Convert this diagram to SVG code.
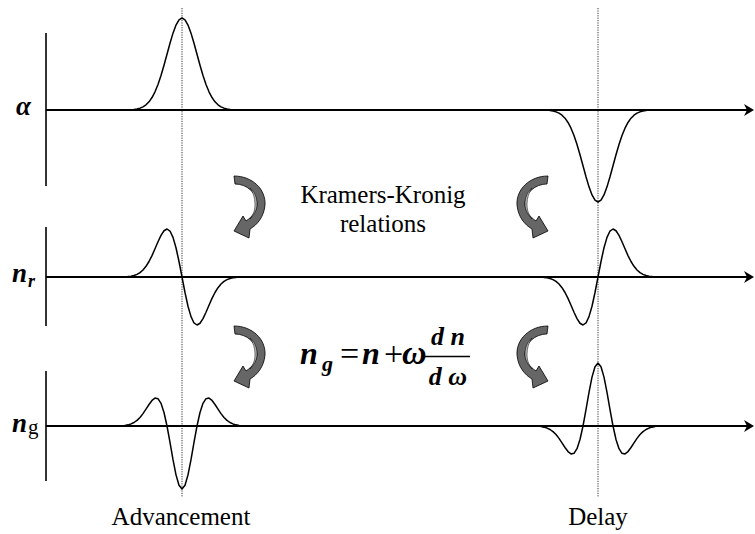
<svg xmlns="http://www.w3.org/2000/svg" width="755" height="534" viewBox="0 0 755 534">
<style>
.axis{stroke:#000;stroke-width:2;fill:none}
.vax{stroke:#000;stroke-width:1.6;fill:none}
.curve{stroke:#000;stroke-width:1.5;fill:none;stroke-linejoin:round;stroke-linecap:round}
.dot{stroke:#333;stroke-width:1;stroke-dasharray:1.2,1.2;fill:none}
text{font-family:'Liberation Serif','DejaVu Serif','Times New Roman',serif;fill:#000}
.lbl{font-size:25px}
.math{font-weight:bold;font-style:italic}
.arrowBody{fill:#666;stroke:#000;stroke-width:0.8;stroke-linejoin:round}
.arrowHi{fill:#b8b8b8;stroke:#000;stroke-width:0.5}
</style>
<defs>
<polygon id="axhead" points="0,0 -10,-6 -7,0 -10,6" fill="#000"/>
<g id="bentArrow">
<path class="arrowBody" d="M 1,1 C 19,1 33,14 32,30 C 31,42 24,50 17,54 L 16,63 L 1,56 L 10,41 L 13,46 C 19,42 24,36 24,29 C 24,18 14,9 2,9 Z"/>
<path class="arrowHi" d="M 17,13 C 22,17 24,23 24,29 C 24,35 21,40 17,44 C 21,39 22,34 22,29 C 22,23 20,17 17,13 Z"/>
</g>
</defs>

<g id="guides">
<line class="dot" x1="182" y1="8" x2="182" y2="497"/>
<line class="dot" x1="598" y1="8" x2="598" y2="497"/>
</g>

<g id="row-alpha">
<line class="vax" x1="46" y1="33" x2="46" y2="186"/>
<line class="axis" x1="46" y1="110" x2="750" y2="110"/>
<use href="#axhead" x="754" y="110"/>
<polyline class="curve" points="134,109.45 137,108.98 140,108.18 143,106.87 146,104.84 149,101.82 152,97.55 155,91.79 158,84.42 161,75.47 164,65.21 167,54.20 170,43.20 173,33.15 176,25.07 179,19.82 182,18 185,19.82 188,25.07 191,33.15 194,43.20 197,54.20 200,65.21 203,75.47 206,84.42 209,91.79 212,97.55 215,101.82 218,104.84 221,106.87 224,108.18 227,108.98 230,109.45"/>
<polyline class="curve" points="550,110.55 553,111.02 556,111.82 559,113.13 562,115.16 565,118.18 568,122.45 571,128.21 574,135.58 577,144.53 580,154.79 583,165.80 586,176.80 589,186.85 592,194.93 595,200.18 598,202 601,200.18 604,194.93 607,186.85 610,176.80 613,165.80 616,154.79 619,144.53 622,135.58 625,128.21 628,122.45 631,118.18 634,115.16 637,113.13 640,111.82 643,111.02 646,110.55"/>
<text class="math" x="16" y="115" font-size="27">α</text>
</g>

<g id="row-nr">
<line class="vax" x1="46" y1="227" x2="46" y2="326"/>
<line class="axis" x1="46" y1="277" x2="750" y2="277"/>
<use href="#axhead" x="754" y="277"/>
<polyline class="curve" points="128,276.56 131,276.17 134,275.48 137,274.36 140,272.61 143,270.00 146,266.34 149,261.52 152,255.59 155,248.81 158,241.80 161,235.42 164,230.77 167,229.00 170,231.03 173,237.34 176,247.78 179,261.49 182,277 185,292.51 188,306.22 191,316.66 194,322.97 197,325.00 200,323.23 203,318.58 206,312.20 209,305.19 212,298.41 215,292.48 218,287.66 221,284.00 224,281.39 227,279.64 230,278.52 233,277.83 236,277.44"/>
<polyline class="curve" points="544,277.44 547,277.83 550,278.52 553,279.64 556,281.39 559,284.00 562,287.66 565,292.48 568,298.41 571,305.19 574,312.20 577,318.58 580,323.23 583,325.00 586,322.97 589,316.66 592,306.22 595,292.51 598,277 601,261.49 604,247.78 607,237.34 610,231.03 613,229.00 616,230.77 619,235.42 622,241.80 625,248.81 628,255.59 631,261.52 634,266.34 637,270.00 640,272.61 643,274.36 646,275.48 649,276.17 652,276.56"/>
<text class="math" x="12" y="282" font-size="27">n</text>
<text class="math" x="28" y="287" font-size="18">r</text>
</g>

<g id="row-ng">
<line class="vax" x1="46" y1="371" x2="46" y2="481"/>
<line class="axis" x1="46" y1="426" x2="750" y2="426"/>
<use href="#axhead" x="754" y="426"/>
<polyline class="curve" points="125,425.38 128,424.85 131,423.94 134,422.51 137,420.41 140,417.47 143,413.66 146,409.18 149,404.49 152,400.43 155,398.07 158,398.68 161,403.30 164,412.51 167,426 170,442.47 173,459.68 176,474.85 179,485.28 182,489 185,485.28 188,474.85 191,459.68 194,442.47 197,426 200,412.51 203,403.30 206,398.68 209,398.07 212,400.43 215,404.49 218,409.18 221,413.66 224,417.47 227,420.41 230,422.51 233,423.94 236,424.85 239,425.38"/>
<polyline class="curve" points="541,426.62 544,427.15 547,428.06 550,429.49 553,431.59 556,434.53 559,438.34 562,442.82 565,447.51 568,451.57 571,453.93 574,453.32 577,448.70 580,439.49 583,426 586,409.53 589,392.32 592,377.15 595,366.72 598,363 601,366.72 604,377.15 607,392.32 610,409.53 613,426 616,439.49 619,448.70 622,453.32 625,453.93 628,451.57 631,447.51 634,442.82 637,438.34 640,434.53 643,431.59 646,429.49 649,428.06 652,427.15 655,426.62"/>
<text class="math" x="12" y="432" font-size="27">n</text>
<text x="28" y="434" font-size="21">g</text>
</g>

<g id="connectors">
<use href="#bentArrow" transform="translate(233,175)"/>
<use href="#bentArrow" transform="translate(549,175) scale(-1,1)"/>
<use href="#bentArrow" transform="translate(233,325)"/>
<use href="#bentArrow" transform="translate(549,325) scale(-1,1)"/>
</g>

<g id="kk-label">
<text class="lbl" x="383" y="203" text-anchor="middle">Kramers-Kronig</text>
<text class="lbl" x="383" y="232" text-anchor="middle">relations</text>
</g>

<g id="formula">
<text class="math" x="300" y="364" font-size="32">n</text>
<text class="math" x="322" y="371" font-size="22">g</text>
<text x="340" y="365" font-size="34">=</text>
<text class="math" x="362" y="364" font-size="32">n</text>
<text x="384" y="365" font-size="34">+</text>
<text class="math" x="402" y="364" font-size="34">ω</text>
<line x1="424" y1="356.5" x2="470" y2="356.5" stroke="#000" stroke-width="1.6"/>
<text class="math" x="448" y="345" font-size="26" text-anchor="middle">d n</text>
<text class="math" x="448" y="385" font-size="26" text-anchor="middle">d ω</text>
</g>

<g id="bottom-labels">
<text class="lbl" x="181" y="525" text-anchor="middle">Advancement</text>
<text class="lbl" x="598" y="525" text-anchor="middle">Delay</text>
</g>
</svg>
